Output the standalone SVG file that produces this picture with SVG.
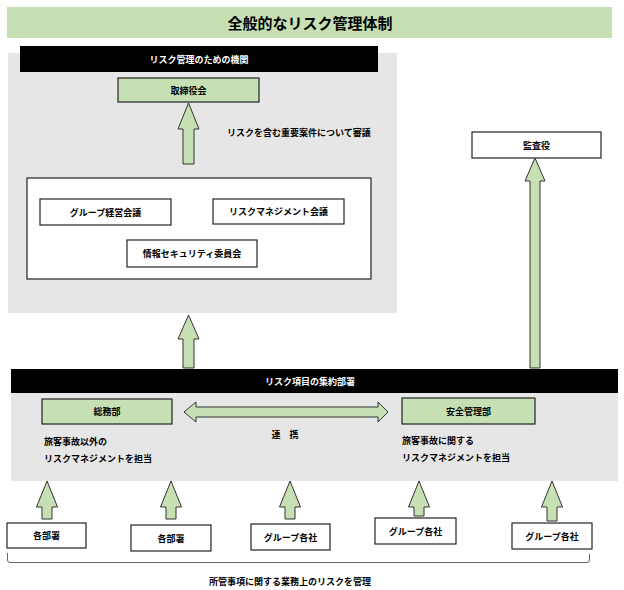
<svg xmlns="http://www.w3.org/2000/svg" width="624" height="590" viewBox="0 0 624 590">
<style>
text{font-family:"Noto Sans CJK JP","Noto Sans",sans-serif;font-weight:bold;font-size:9px;fill:#000;}
.c{text-anchor:middle;dominant-baseline:central;}
.w{fill:#fff;}
.box{fill:#fff;stroke:#222;stroke-width:1.2;}
.gbox{fill:#c6e0b4;stroke:#222;stroke-width:1.2;}
.arr{fill:#c6e0b4;stroke:#333;stroke-width:1;stroke-linejoin:miter;}
</style>
<rect width="624" height="590" fill="#fff"/>
<g id="title">
<rect x="7" y="7" width="605" height="31" fill="#c6e0b4"/>
<text class="c" x="310" y="22.5" style="font-size:15px">全般的なリスク管理体制</text>
</g>
<g id="risk-organ">
<rect x="8" y="53" width="389" height="260" fill="#e6e6e6"/>
<rect x="20" y="46" width="358" height="26" fill="#000"/>
<text class="c w" x="199" y="59">リスク管理のための機関</text>
</g>
<g id="board">
<rect class="gbox" x="118" y="78" width="141" height="24"/>
<text class="c" x="188.5" y="90">取締役会</text>
</g>
<g id="meetings">
<rect class="box" x="27" y="178" width="344" height="101"/>
</g>
<g id="group-mgmt">
<rect class="box" x="40" y="199" width="131" height="26"/>
<text class="c" x="105.5" y="212">グループ経営会議</text>
</g>
<g id="rm-meeting">
<rect class="box" x="213" y="199" width="131" height="25"/>
<text class="c" x="278.5" y="211.5">リスクマネジメント会議</text>
</g>
<g id="infosec">
<rect class="box" x="127" y="240" width="130" height="27"/>
<text class="c" x="192" y="253.5">情報セキュリティ委員会</text>
</g>
<g id="auditor">
<rect class="box" x="472" y="132" width="129" height="26"/>
<text class="c" x="536.5" y="145">監査役</text>
</g>
<g id="aggregation">
<rect x="11" y="393" width="607" height="88" fill="#e6e6e6"/>
<rect x="11" y="369" width="607" height="24" fill="#000"/>
<text class="c w" x="310" y="381">リスク項目の集約部署</text>
</g>
<g id="general-affairs">
<rect class="gbox" x="42" y="399" width="130" height="25"/>
<text class="c" x="107" y="411.5">総務部</text>
<text x="44" y="445">旅客事故以外の</text>
<text x="44" y="462">リスクマネジメントを担当</text>
</g>
<g id="safety">
<rect class="gbox" x="402" y="398" width="133" height="26"/>
<text class="c" x="468.5" y="411">安全管理部</text>
<text x="402" y="444">旅客事故に関する</text>
<text x="402" y="461">リスクマネジメントを担当</text>
</g>
<g id="dept1">
<rect class="box" x="7" y="523" width="79" height="25"/>
<text class="c" x="46.5" y="535.5">各部署</text>
</g>
<g id="dept2">
<rect class="box" x="131" y="525" width="80" height="26"/>
<text class="c" x="171" y="538">各部署</text>
</g>
<g id="group1">
<rect class="box" x="251" y="524" width="79" height="26"/>
<text class="c" x="290.5" y="537">グループ各社</text>
</g>
<g id="group2">
<rect class="box" x="375" y="518" width="81" height="26"/>
<text class="c" x="415.5" y="531">グループ各社</text>
</g>
<g id="group3">
<rect class="box" x="512" y="523" width="80" height="26"/>
<text class="c" x="552" y="536">グループ各社</text>
</g>
<g id="connectors">
<polygon class="arr" points="188.5,103 199,129 194,129 194,164 183,164 183,129 178,129"/>
<text x="227" y="136">リスクを含む重要案件について審議</text>
<polygon class="arr" points="188.5,315 199,339 194,339 194,368 183,368 183,339 178,339"/>
<polygon class="arr" points="535,158 545,181 540,181 540,368 530,368 530,181 525,181"/>
<polygon class="arr" points="184,412 196,402 196,407 378,407 378,402 388,412 378,422 378,417 196,417 196,422"/>
<text class="c" x="285" y="434">連　携</text>
<polygon class="arr" points="47,481 57.5,507 52,507 52,519 42,519 42,507 36.5,507"/>
<polygon class="arr" points="171,481 181.5,507 176,507 176,519 166,519 166,507 160.5,507"/>
<polygon class="arr" points="290,481 300.5,507 295,507 295,519 285,519 285,507 279.5,507"/>
<polygon class="arr" points="419,481 429.5,507 424,507 424,516 414,516 414,507 408.5,507"/>
<polygon class="arr" points="552,481 562.5,507 557,507 557,521 547,521 547,507 541.5,507"/>
<path d="M7.5,553 V560 Q7.5,562.5 10,562.5 H587 Q589.5,562.5 589.5,560 V554" fill="none" stroke="#666" stroke-width="1"/>
<text class="c" x="290" y="581">所管事項に関する業務上のリスクを管理</text>
</g>
</svg>
